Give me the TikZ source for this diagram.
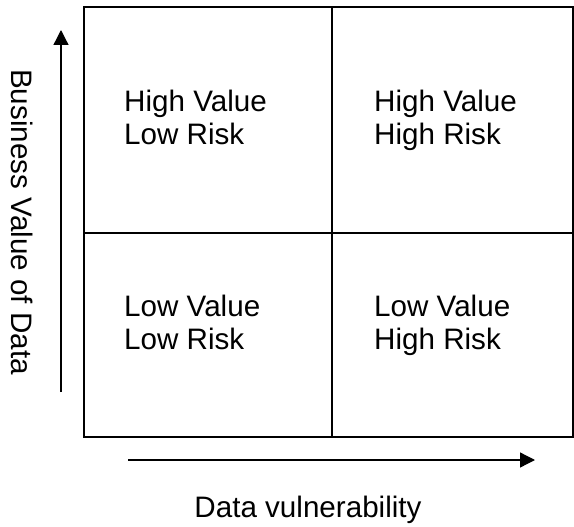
\documentclass[tikz,border=0pt]{standalone}
\usepackage{fontspec}
\setmainfont{Liberation Sans}
\usetikzlibrary{arrows.meta}
\begin{document}
\begin{tikzpicture}[x=1pt,y=-1pt,
  gridline/.style={line width=2pt},
  axis/.style={line width=1.3pt,-{Triangle[length=15pt,width=15pt]}},
  cell/.style={anchor=base west,align=left,inner sep=0pt,font=\fontsize{29.6}{33}\selectfont},
  lbl/.style={inner sep=0pt,font=\fontsize{29.6}{33}\selectfont}]
\useasboundingbox (0,0) rectangle (574,527);
\coordinate (tl) at (83.7,7.5);
\coordinate (br) at (573,437);
\draw[gridline] (tl) rectangle (br);
\coordinate (vt) at (332.3,7.5);
\coordinate (vb) at (332.3,437);
\coordinate (hl) at (83.7,233.3);
\coordinate (hr) at (573,233.3);
\draw[gridline] (vt) -- (vb);
\draw[gridline] (hl) -- (hr);
\node[cell] (hvlr) at (124,145) {High Value\\Low Risk};
\node[cell] (hvhr) at (374,145) {High Value\\High Risk};
\node[cell] (lvlr) at (124,349) {Low Value\\Low Risk};
\node[cell] (lvhr) at (374,349) {Low Value\\High Risk};
\coordinate (ya) at (61,392);
\coordinate (yb) at (61,30);
\draw[axis] (ya) -- (yb);
\coordinate (xa) at (128,460);
\coordinate (xb) at (535,460);
\draw[axis] (xa) -- (xb);
\node[lbl,rotate=-90] (ylab) at (22,222) {Business Value of Data};
\node[lbl,anchor=base] (xlab) at (308,517) {Data vulnerability};
\end{tikzpicture}
\end{document}
